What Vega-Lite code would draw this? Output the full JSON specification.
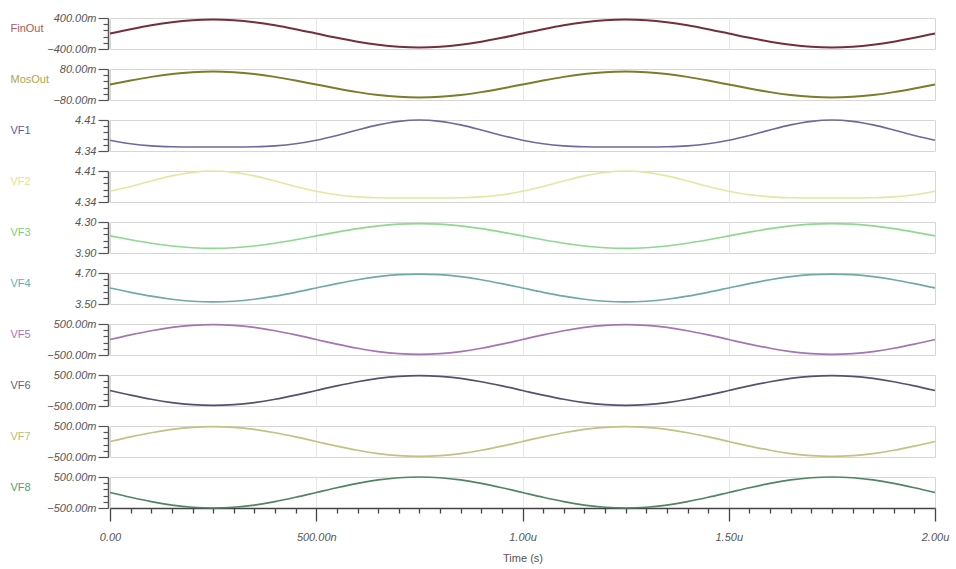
{
"$schema": "https://vega.github.io/schema/vega-lite/v6.json",
"padding": {"left": 9, "top": 11, "right": 5, "bottom": 5},
"background": "white",
"data": {"values": [
{"t":0,"FinOut":0,"MosOut":0,"VF1":4.3643,"VF2":4.3643,"VF3":4.12,"VF4":4.12,"VF5":0,"VF6":0,"VF7":0,"VF8":0},
{"t":0.05,"FinOut":0.1112,"MosOut":0.0207,"VF1":4.3563,"VF2":4.3751,"VF3":4.0706,"VF4":3.953,"VF5":0.1483,"VF6":-0.1483,"VF7":0.1483,"VF8":-0.1545},
{"t":0.1,"FinOut":0.2117,"MosOut":0.0394,"VF1":4.3516,"VF2":4.3875,"VF3":4.0259,"VF4":3.802,"VF5":0.2822,"VF6":-0.2822,"VF7":0.2822,"VF8":-0.294},
{"t":0.15,"FinOut":0.2912,"MosOut":0.0542,"VF1":4.3496,"VF2":4.3989,"VF3":3.9906,"VF4":3.683,"VF5":0.3883,"VF6":-0.3883,"VF7":0.3883,"VF8":-0.4045},
{"t":0.2,"FinOut":0.3424,"MosOut":0.0637,"VF1":4.349,"VF2":4.407,"VF3":3.9678,"VF4":3.606,"VF5":0.4565,"VF6":-0.4565,"VF7":0.4565,"VF8":-0.4755},
{"t":0.25,"FinOut":0.36,"MosOut":0.067,"VF1":4.349,"VF2":4.41,"VF3":3.96,"VF4":3.58,"VF5":0.48,"VF6":-0.48,"VF7":0.48,"VF8":-0.5},
{"t":0.3,"FinOut":0.3424,"MosOut":0.0637,"VF1":4.349,"VF2":4.407,"VF3":3.9678,"VF4":3.606,"VF5":0.4565,"VF6":-0.4565,"VF7":0.4565,"VF8":-0.4755},
{"t":0.35,"FinOut":0.2912,"MosOut":0.0542,"VF1":4.3496,"VF2":4.3989,"VF3":3.9906,"VF4":3.683,"VF5":0.3883,"VF6":-0.3883,"VF7":0.3883,"VF8":-0.4045},
{"t":0.4,"FinOut":0.2117,"MosOut":0.0394,"VF1":4.3516,"VF2":4.3875,"VF3":4.0259,"VF4":3.802,"VF5":0.2822,"VF6":-0.2822,"VF7":0.2822,"VF8":-0.294},
{"t":0.45,"FinOut":0.1112,"MosOut":0.0207,"VF1":4.3563,"VF2":4.3751,"VF3":4.0706,"VF4":3.953,"VF5":0.1483,"VF6":-0.1483,"VF7":0.1483,"VF8":-0.1545},
{"t":0.5,"FinOut":0,"MosOut":0,"VF1":4.3643,"VF2":4.3643,"VF3":4.12,"VF4":4.12,"VF5":0,"VF6":0,"VF7":0,"VF8":0},
{"t":0.55,"FinOut":-0.1112,"MosOut":-0.0207,"VF1":4.3751,"VF2":4.3563,"VF3":4.1694,"VF4":4.287,"VF5":-0.1483,"VF6":0.1483,"VF7":-0.1483,"VF8":0.1545},
{"t":0.6,"FinOut":-0.2117,"MosOut":-0.0394,"VF1":4.3875,"VF2":4.3516,"VF3":4.2141,"VF4":4.438,"VF5":-0.2822,"VF6":0.2822,"VF7":-0.2822,"VF8":0.294},
{"t":0.65,"FinOut":-0.2912,"MosOut":-0.0542,"VF1":4.3989,"VF2":4.3496,"VF3":4.2494,"VF4":4.557,"VF5":-0.3883,"VF6":0.3883,"VF7":-0.3883,"VF8":0.4045},
{"t":0.7,"FinOut":-0.3424,"MosOut":-0.0637,"VF1":4.407,"VF2":4.349,"VF3":4.2722,"VF4":4.634,"VF5":-0.4565,"VF6":0.4565,"VF7":-0.4565,"VF8":0.4755},
{"t":0.75,"FinOut":-0.36,"MosOut":-0.067,"VF1":4.41,"VF2":4.349,"VF3":4.28,"VF4":4.66,"VF5":-0.48,"VF6":0.48,"VF7":-0.48,"VF8":0.5},
{"t":0.8,"FinOut":-0.3424,"MosOut":-0.0637,"VF1":4.407,"VF2":4.349,"VF3":4.2722,"VF4":4.634,"VF5":-0.4565,"VF6":0.4565,"VF7":-0.4565,"VF8":0.4755},
{"t":0.85,"FinOut":-0.2912,"MosOut":-0.0542,"VF1":4.3989,"VF2":4.3496,"VF3":4.2494,"VF4":4.557,"VF5":-0.3883,"VF6":0.3883,"VF7":-0.3883,"VF8":0.4045},
{"t":0.9,"FinOut":-0.2117,"MosOut":-0.0394,"VF1":4.3875,"VF2":4.3516,"VF3":4.2141,"VF4":4.438,"VF5":-0.2822,"VF6":0.2822,"VF7":-0.2822,"VF8":0.294},
{"t":0.95,"FinOut":-0.1112,"MosOut":-0.0207,"VF1":4.3751,"VF2":4.3563,"VF3":4.1694,"VF4":4.287,"VF5":-0.1483,"VF6":0.1483,"VF7":-0.1483,"VF8":0.1545},
{"t":1,"FinOut":0,"MosOut":0,"VF1":4.3643,"VF2":4.3643,"VF3":4.12,"VF4":4.12,"VF5":0,"VF6":0,"VF7":0,"VF8":0},
{"t":1.05,"FinOut":0.1112,"MosOut":0.0207,"VF1":4.3563,"VF2":4.3751,"VF3":4.0706,"VF4":3.953,"VF5":0.1483,"VF6":-0.1483,"VF7":0.1483,"VF8":-0.1545},
{"t":1.1,"FinOut":0.2117,"MosOut":0.0394,"VF1":4.3516,"VF2":4.3875,"VF3":4.0259,"VF4":3.802,"VF5":0.2822,"VF6":-0.2822,"VF7":0.2822,"VF8":-0.294},
{"t":1.15,"FinOut":0.2912,"MosOut":0.0542,"VF1":4.3496,"VF2":4.3989,"VF3":3.9906,"VF4":3.683,"VF5":0.3883,"VF6":-0.3883,"VF7":0.3883,"VF8":-0.4045},
{"t":1.2,"FinOut":0.3424,"MosOut":0.0637,"VF1":4.349,"VF2":4.407,"VF3":3.9678,"VF4":3.606,"VF5":0.4565,"VF6":-0.4565,"VF7":0.4565,"VF8":-0.4755},
{"t":1.25,"FinOut":0.36,"MosOut":0.067,"VF1":4.349,"VF2":4.41,"VF3":3.96,"VF4":3.58,"VF5":0.48,"VF6":-0.48,"VF7":0.48,"VF8":-0.5},
{"t":1.3,"FinOut":0.3424,"MosOut":0.0637,"VF1":4.349,"VF2":4.407,"VF3":3.9678,"VF4":3.606,"VF5":0.4565,"VF6":-0.4565,"VF7":0.4565,"VF8":-0.4755},
{"t":1.35,"FinOut":0.2912,"MosOut":0.0542,"VF1":4.3496,"VF2":4.3989,"VF3":3.9906,"VF4":3.683,"VF5":0.3883,"VF6":-0.3883,"VF7":0.3883,"VF8":-0.4045},
{"t":1.4,"FinOut":0.2117,"MosOut":0.0394,"VF1":4.3516,"VF2":4.3875,"VF3":4.0259,"VF4":3.802,"VF5":0.2822,"VF6":-0.2822,"VF7":0.2822,"VF8":-0.294},
{"t":1.45,"FinOut":0.1112,"MosOut":0.0207,"VF1":4.3563,"VF2":4.3751,"VF3":4.0706,"VF4":3.953,"VF5":0.1483,"VF6":-0.1483,"VF7":0.1483,"VF8":-0.1545},
{"t":1.5,"FinOut":0,"MosOut":0,"VF1":4.3643,"VF2":4.3643,"VF3":4.12,"VF4":4.12,"VF5":0,"VF6":0,"VF7":0,"VF8":0},
{"t":1.55,"FinOut":-0.1112,"MosOut":-0.0207,"VF1":4.3751,"VF2":4.3563,"VF3":4.1694,"VF4":4.287,"VF5":-0.1483,"VF6":0.1483,"VF7":-0.1483,"VF8":0.1545},
{"t":1.6,"FinOut":-0.2117,"MosOut":-0.0394,"VF1":4.3875,"VF2":4.3516,"VF3":4.2141,"VF4":4.438,"VF5":-0.2822,"VF6":0.2822,"VF7":-0.2822,"VF8":0.294},
{"t":1.65,"FinOut":-0.2912,"MosOut":-0.0542,"VF1":4.3989,"VF2":4.3496,"VF3":4.2494,"VF4":4.557,"VF5":-0.3883,"VF6":0.3883,"VF7":-0.3883,"VF8":0.4045},
{"t":1.7,"FinOut":-0.3424,"MosOut":-0.0637,"VF1":4.407,"VF2":4.349,"VF3":4.2722,"VF4":4.634,"VF5":-0.4565,"VF6":0.4565,"VF7":-0.4565,"VF8":0.4755},
{"t":1.75,"FinOut":-0.36,"MosOut":-0.067,"VF1":4.41,"VF2":4.349,"VF3":4.28,"VF4":4.66,"VF5":-0.48,"VF6":0.48,"VF7":-0.48,"VF8":0.5},
{"t":1.8,"FinOut":-0.3424,"MosOut":-0.0637,"VF1":4.407,"VF2":4.349,"VF3":4.2722,"VF4":4.634,"VF5":-0.4565,"VF6":0.4565,"VF7":-0.4565,"VF8":0.4755},
{"t":1.85,"FinOut":-0.2912,"MosOut":-0.0542,"VF1":4.3989,"VF2":4.3496,"VF3":4.2494,"VF4":4.557,"VF5":-0.3883,"VF6":0.3883,"VF7":-0.3883,"VF8":0.4045},
{"t":1.9,"FinOut":-0.2117,"MosOut":-0.0394,"VF1":4.3875,"VF2":4.3516,"VF3":4.2141,"VF4":4.438,"VF5":-0.2822,"VF6":0.2822,"VF7":-0.2822,"VF8":0.294},
{"t":1.95,"FinOut":-0.1112,"MosOut":-0.0207,"VF1":4.3751,"VF2":4.3563,"VF3":4.1694,"VF4":4.287,"VF5":-0.1483,"VF6":0.1483,"VF7":-0.1483,"VF8":0.1545},
{"t":2,"FinOut":0,"MosOut":0,"VF1":4.3643,"VF2":4.3643,"VF3":4.12,"VF4":4.12,"VF5":0,"VF6":0,"VF7":0,"VF8":0}
]},
"spacing": 20,
"bounds": "flush",
"vconcat": [
{"width": 825, "height": 31, "mark": {"type": "line", "color": "#74303a", "strokeWidth": 2},
 "encoding": {
  "x": {"field": "t", "type": "quantitative", "scale": {"domain": [0, 2], "nice": false}, "axis": {"values": [0.5, 1, 1.5], "grid": true, "labels": false, "ticks": false, "domain": false, "title": null}},
  "y": {"field": "FinOut", "type": "quantitative", "scale": {"domain": [-0.4, 0.4], "nice": false, "zero": false},
   "axis": {"title": "FinOut", "titleColor": "#a85a5c", "values": [-0.4, -0.24, -0.08, 0.08, 0.24, 0.4], "labelExpr": "abs(datum.value) > 0.39 ? format(datum.value*1000, '.2f') + 'm' : ''", "tickSize": {"condition": {"test": "abs(datum.value) > 0.39", "value": 10}, "value": 5}}}}},
{"width": 825, "height": 31, "mark": {"type": "line", "color": "#7b7d2a", "strokeWidth": 2},
 "encoding": {
  "x": {"field": "t", "type": "quantitative", "scale": {"domain": [0, 2], "nice": false}, "axis": {"values": [0.5, 1, 1.5], "grid": true, "labels": false, "ticks": false, "domain": false, "title": null}},
  "y": {"field": "MosOut", "type": "quantitative", "scale": {"domain": [-0.08, 0.08], "nice": false, "zero": false},
   "axis": {"title": "MosOut", "titleColor": "#aaa84a", "values": [-0.08, -0.048, -0.016, 0.016, 0.048, 0.08], "labelExpr": "abs(datum.value) > 0.079 ? format(datum.value*1000, '.2f') + 'm' : ''", "tickSize": {"condition": {"test": "abs(datum.value) > 0.079", "value": 10}, "value": 5}}}}},
{"width": 825, "height": 31, "mark": {"type": "line", "color": "#6a6a9e", "strokeWidth": 1.7},
 "encoding": {
  "x": {"field": "t", "type": "quantitative", "scale": {"domain": [0, 2], "nice": false}, "axis": {"values": [0.5, 1, 1.5], "grid": true, "labels": false, "ticks": false, "domain": false, "title": null}},
  "y": {"field": "VF1", "type": "quantitative", "scale": {"domain": [4.34, 4.41], "nice": false, "zero": false},
   "axis": {"title": "VF1", "titleColor": "#5a5aa8", "values": [4.34, 4.354, 4.368, 4.382, 4.396, 4.41], "labelExpr": "(datum.value < 4.341 || datum.value > 4.409) ? format(datum.value, '.2f') : ''", "tickSize": {"condition": {"test": "datum.value < 4.341 || datum.value > 4.409", "value": 10}, "value": 5}}}}},
{"width": 825, "height": 31, "mark": {"type": "line", "color": "#e6e6a2", "strokeWidth": 1.7},
 "encoding": {
  "x": {"field": "t", "type": "quantitative", "scale": {"domain": [0, 2], "nice": false}, "axis": {"values": [0.5, 1, 1.5], "grid": true, "labels": false, "ticks": false, "domain": false, "title": null}},
  "y": {"field": "VF2", "type": "quantitative", "scale": {"domain": [4.34, 4.41], "nice": false, "zero": false},
   "axis": {"title": "VF2", "titleColor": "#e8e28c", "values": [4.34, 4.354, 4.368, 4.382, 4.396, 4.41], "labelExpr": "(datum.value < 4.341 || datum.value > 4.409) ? format(datum.value, '.2f') : ''", "tickSize": {"condition": {"test": "datum.value < 4.341 || datum.value > 4.409", "value": 10}, "value": 5}}}}},
{"width": 825, "height": 31, "mark": {"type": "line", "color": "#8fd88f", "strokeWidth": 1.7},
 "encoding": {
  "x": {"field": "t", "type": "quantitative", "scale": {"domain": [0, 2], "nice": false}, "axis": {"values": [0.5, 1, 1.5], "grid": true, "labels": false, "ticks": false, "domain": false, "title": null}},
  "y": {"field": "VF3", "type": "quantitative", "scale": {"domain": [3.9, 4.3], "nice": false, "zero": false},
   "axis": {"title": "VF3", "titleColor": "#7ccf7c", "values": [3.9, 3.98, 4.06, 4.14, 4.22, 4.3], "labelExpr": "(datum.value < 3.91 || datum.value > 4.29) ? format(datum.value, '.2f') : ''", "tickSize": {"condition": {"test": "datum.value < 3.91 || datum.value > 4.29", "value": 10}, "value": 5}}}}},
{"width": 825, "height": 31, "mark": {"type": "line", "color": "#6fa9aa", "strokeWidth": 1.7},
 "encoding": {
  "x": {"field": "t", "type": "quantitative", "scale": {"domain": [0, 2], "nice": false}, "axis": {"values": [0.5, 1, 1.5], "grid": true, "labels": false, "ticks": false, "domain": false, "title": null}},
  "y": {"field": "VF4", "type": "quantitative", "scale": {"domain": [3.5, 4.7], "nice": false, "zero": false},
   "axis": {"title": "VF4", "titleColor": "#5fb0c2", "values": [3.5, 3.74, 3.98, 4.22, 4.46, 4.7], "labelExpr": "(datum.value < 3.51 || datum.value > 4.69) ? format(datum.value, '.2f') : ''", "tickSize": {"condition": {"test": "datum.value < 3.51 || datum.value > 4.69", "value": 10}, "value": 5}}}}},
{"width": 825, "height": 31, "mark": {"type": "line", "color": "#a474b4", "strokeWidth": 1.7},
 "encoding": {
  "x": {"field": "t", "type": "quantitative", "scale": {"domain": [0, 2], "nice": false}, "axis": {"values": [0.5, 1, 1.5], "grid": true, "labels": false, "ticks": false, "domain": false, "title": null}},
  "y": {"field": "VF5", "type": "quantitative", "scale": {"domain": [-0.5, 0.5], "nice": false, "zero": false},
   "axis": {"title": "VF5", "titleColor": "#b070c0", "values": [-0.5, -0.3, -0.1, 0.1, 0.3, 0.5], "labelExpr": "abs(datum.value) > 0.49 ? format(datum.value*1000, '.2f') + 'm' : ''", "tickSize": {"condition": {"test": "abs(datum.value) > 0.49", "value": 10}, "value": 5}}}}},
{"width": 825, "height": 31, "mark": {"type": "line", "color": "#525270", "strokeWidth": 1.7},
 "encoding": {
  "x": {"field": "t", "type": "quantitative", "scale": {"domain": [0, 2], "nice": false}, "axis": {"values": [0.5, 1, 1.5], "grid": true, "labels": false, "ticks": false, "domain": false, "title": null}},
  "y": {"field": "VF6", "type": "quantitative", "scale": {"domain": [-0.5, 0.5], "nice": false, "zero": false},
   "axis": {"title": "VF6", "titleColor": "#62628a", "values": [-0.5, -0.3, -0.1, 0.1, 0.3, 0.5], "labelExpr": "abs(datum.value) > 0.49 ? format(datum.value*1000, '.2f') + 'm' : ''", "tickSize": {"condition": {"test": "abs(datum.value) > 0.49", "value": 10}, "value": 5}}}}},
{"width": 825, "height": 31, "mark": {"type": "line", "color": "#c2c282", "strokeWidth": 1.7},
 "encoding": {
  "x": {"field": "t", "type": "quantitative", "scale": {"domain": [0, 2], "nice": false}, "axis": {"values": [0.5, 1, 1.5], "grid": true, "labels": false, "ticks": false, "domain": false, "title": null}},
  "y": {"field": "VF7", "type": "quantitative", "scale": {"domain": [-0.5, 0.5], "nice": false, "zero": false},
   "axis": {"title": "VF7", "titleColor": "#bcbc72", "values": [-0.5, -0.3, -0.1, 0.1, 0.3, 0.5], "labelExpr": "abs(datum.value) > 0.49 ? format(datum.value*1000, '.2f') + 'm' : ''", "tickSize": {"condition": {"test": "abs(datum.value) > 0.49", "value": 10}, "value": 5}}}}},
{"width": 825, "height": 31, "mark": {"type": "line", "color": "#528462", "strokeWidth": 1.7},
 "encoding": {
  "x": {"field": "t", "type": "quantitative", "scale": {"domain": [0, 2], "nice": false},
   "axis": {"values": [0, 0.05, 0.1, 0.15, 0.2, 0.25, 0.3, 0.35, 0.4, 0.45, 0.5, 0.55, 0.6, 0.65, 0.7, 0.75, 0.8, 0.85, 0.9, 0.95, 1, 1.05, 1.1, 1.15, 1.2, 1.25, 1.3, 1.35, 1.4, 1.45, 1.5, 1.55, 1.6, 1.65, 1.7, 1.75, 1.8, 1.85, 1.9, 1.95, 2],
    "title": "Time (s)", "titleFontStyle": "normal", "titleFontSize": 11, "titleColor": "#555555", "titlePadding": 10,
    "labelExpr": "datum.value % 0.5 == 0 ? (datum.value == 0 ? '0.00' : (datum.value < 1 ? format(datum.value*1000, '.2f') + 'n' : format(datum.value, '.2f') + 'u')) : ''",
    "labelOverlap": false, "labelFlush": false, "labelPadding": 10,
    "tickSize": {"condition": {"test": "datum.value % 0.5 == 0", "value": 13}, "value": 5},
    "tickColor": "#444444", "tickWidth": 1.3,
    "grid": true, "gridOpacity": {"condition": {"test": "datum.value % 0.5 == 0 && datum.value > 0 && datum.value < 2", "value": 1}, "value": 0},
    "domainWidth": 1.5, "domainColor": "#444444"}},
  "y": {"field": "VF8", "type": "quantitative", "scale": {"domain": [-0.5, 0.5], "nice": false, "zero": false},
   "axis": {"title": "VF8", "titleColor": "#4fa06e", "values": [-0.5, -0.3, -0.1, 0.1, 0.3, 0.5], "labelExpr": "abs(datum.value) > 0.49 ? format(datum.value*1000, '.2f') + 'm' : ''", "tickSize": {"condition": {"test": "abs(datum.value) > 0.49", "value": 10}, "value": 5}}}}}
],
"config": {
 "view": {"stroke": "#d6d6d6", "strokeWidth": 1},
 "line": {"interpolate": "monotone"},
 "axis": {"labelFont": "Liberation Sans", "labelFontStyle": "italic", "labelColor": "#555555", "labelFontSize": 11, "tickColor": "#555555", "domainColor": "#555555", "titleFont": "Liberation Sans", "titleFontWeight": "normal", "grid": false, "gridColor": "#e6e6e6"},
 "axisY": {"titleAngle": 0, "titleAlign": "left", "titleBaseline": "middle", "titleX": -98, "titleY": 10, "titleFontSize": 11, "labelPadding": 2, "offset": 2, "domainWidth": 1.5, "tickWidth": 1.2}
}
}
